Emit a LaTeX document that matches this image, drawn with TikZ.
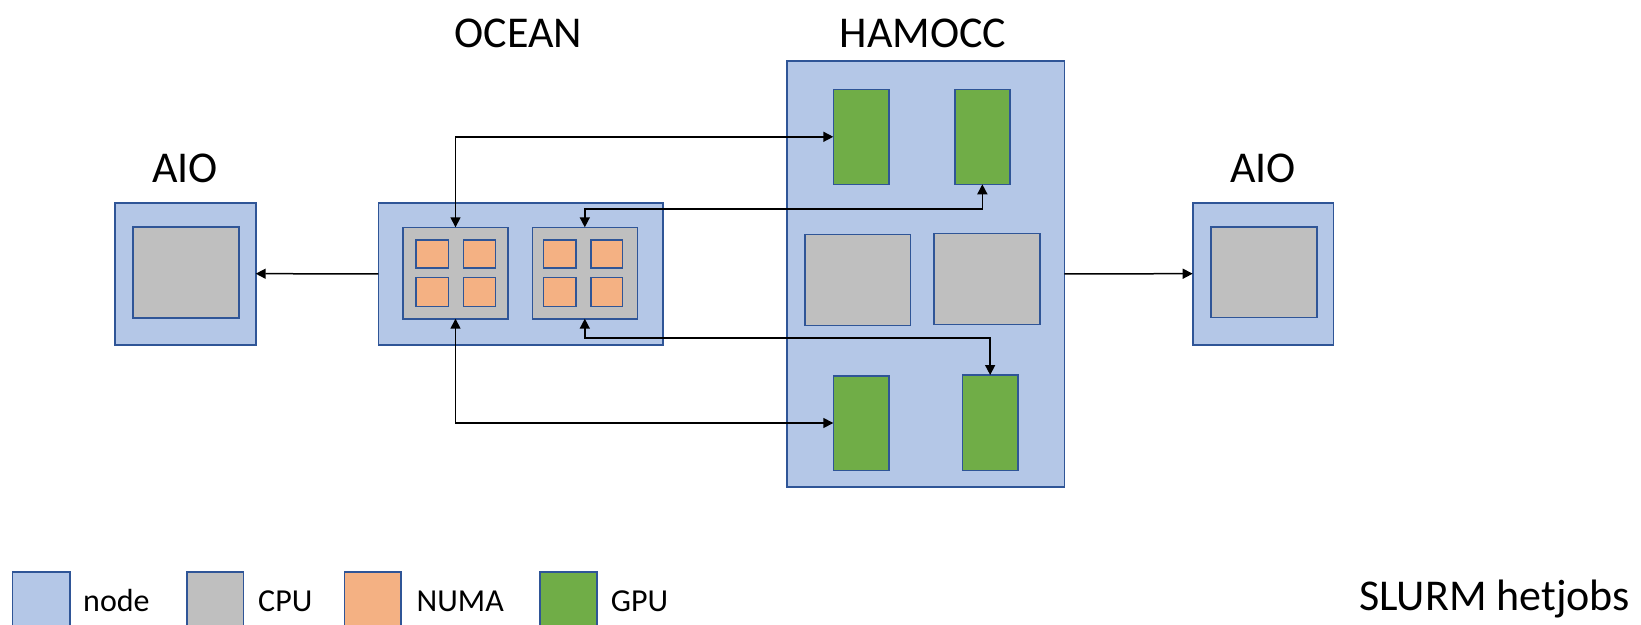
\documentclass[tikz,border=0pt]{standalone}
\usepackage{fontspec}
\setmainfont{Carlito}
\usetikzlibrary{arrows.meta,fit}
\definecolor{nodefill}{HTML}{B4C7E7}
\definecolor{edgeblue}{HTML}{2F5597}
\definecolor{cpufill}{HTML}{BFBFBF}
\definecolor{numafill}{HTML}{F4B183}
\definecolor{gpufill}{HTML}{70AD47}
\begin{document}
\begin{tikzpicture}[x=1pt,y=-1pt,
  box/.style={draw=edgeblue, line width=1.6pt, inner sep=0pt, outer sep=0pt},
  nodebox/.style={box, fill=nodefill},
  cpubox/.style={box, fill=cpufill},
  numabox/.style={box, fill=numafill},
  gpubox/.style={box, fill=gpufill},
  conn/.style={line width=1.5pt, black, -{Triangle[length=10pt,width=10pt]}},
  biconn/.style={line width=1.5pt, black, {Triangle[length=10pt,width=10pt]}-{Triangle[length=10pt,width=10pt]}},
  title/.style={font=\fontsize{44}{50}\selectfont, anchor=base, inner sep=0pt},
  legtext/.style={font=\fontsize{32}{38}\selectfont, anchor=base west, inner sep=0pt}]
\useasboundingbox (0,0) rectangle (1641,624);

% titles
\node[title] (tocean) at (518.5,47.8) {OCEAN};
\node[title] (thamocc) at (923,47.8) {HAMOCC};
\node[title] (taiol) at (185,182.7) {AIO};
\node[title] (taior) at (1263,182.7) {AIO};

% AIO left
\node[nodebox, fit={(115,202.7) (255.7,344.7)}] (aiol) {};
\node[cpubox, fit={(132.7,226.7) (239,317.7)}] (aiolcpu) {};

% OCEAN
\node[nodebox, fit={(378.3,202.7) (662.7,345)}] (ocean) {};
\node[cpubox, fit={(403,227.3) (508,318.7)}] (cpu1) {};
\node[cpubox, fit={(532.3,227.3) (637.3,318.7)}] (cpu2) {};
\node[numabox, fit={(416,240) (448.3,267.7)}] (n11) {};
\node[numabox, fit={(463.3,240) (495.3,267.7)}] (n12) {};
\node[numabox, fit={(416,277.3) (448.3,306.3)}] (n13) {};
\node[numabox, fit={(463.3,277.3) (495.3,306.3)}] (n14) {};
\node[numabox, fit={(543.3,240) (576,267.7)}] (n21) {};
\node[numabox, fit={(590.7,240) (622.3,267.7)}] (n22) {};
\node[numabox, fit={(543.3,277.3) (576,306.3)}] (n23) {};
\node[numabox, fit={(590.7,277.3) (622.3,306.3)}] (n24) {};

% HAMOCC
\node[nodebox, fit={(786.7,60.7) (1064.3,487)}] (hamocc) {};
\node[gpubox, fit={(833.3,89.3) (889,184.3)}] (gpu1) {};
\node[gpubox, fit={(954.7,89.3) (1010,184.3)}] (gpu2) {};
\node[cpubox, fit={(804.7,234.3) (910.3,325.3)}] (hcpu1) {};
\node[cpubox, fit={(933.7,233.3) (1039.7,324.3)}] (hcpu2) {};
\node[gpubox, fit={(833.3,375.7) (889,470.3)}] (gpu3) {};
\node[gpubox, fit={(962.3,375) (1018,470.3)}] (gpu4) {};

% AIO right
\node[nodebox, fit={(1192.7,202.7) (1333.3,344.7)}] (aior) {};
\node[cpubox, fit={(1210.7,226.7) (1316.7,317.3)}] (aiorcpu) {};

% connectors
\coordinate (r1) at (0,136);
\coordinate (r2) at (0,209);
\coordinate (r3) at (0,338);
\draw[conn] (ocean.west) -- (aiol.east);
\draw[conn] (hamocc.east) -- (aior.west);
\draw[biconn] (cpu1.north) |- (gpu1.west);
\draw[biconn] (cpu2.north) -- (cpu2.north |- r2) -| (gpu2.south);
\draw[biconn] (cpu2.south) -- (cpu2.south |- r3) -| (gpu4.north);
\draw[biconn] (cpu1.south) |- (gpu3.west);

% legend
\node[nodebox, fit={(12.3,571.7) (69.7,640)}] (lnode) {};
\node[legtext] (lnodet) at (83,611.7) {node};
\node[cpubox, fit={(186.7,571.7) (243.3,640)}] (lcpu) {};
\node[legtext] (lcput) at (258,611.7) {CPU};
\node[numabox, fit={(344.6,571.7) (401,640)}] (lnuma) {};
\node[legtext] (lnumat) at (416.5,611.7) {NUMA};
\node[gpubox, fit={(540,571.7) (597,640)}] (lgpu) {};
\node[legtext] (lgput) at (610.7,611.7) {GPU};
\node[font=\fontsize{44}{50}\selectfont, anchor=base west, inner sep=0pt] (slurm) at (1359,610) {SLURM hetjobs};
\end{tikzpicture}
\end{document}
